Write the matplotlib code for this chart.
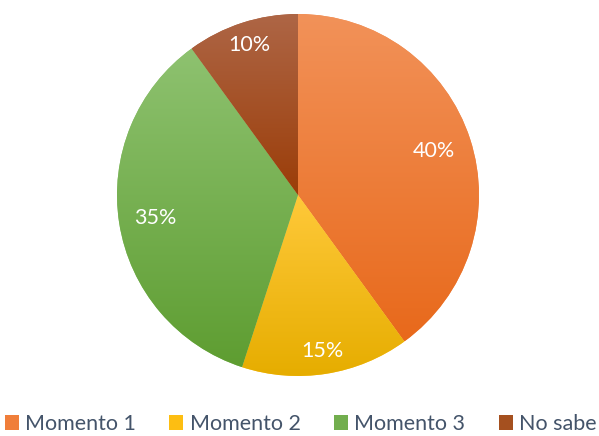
import matplotlib
matplotlib.use("Agg")
import matplotlib.pyplot as plt
import numpy as np
from matplotlib.colors import to_rgb
from matplotlib.patches import Patch

plt.rcParams['font.family'] = ['Lato', 'DejaVu Sans']

categories = ['Momento 1', 'Momento 2', 'Momento 3', 'No sabe']
values = [40, 15, 35, 10]
labels = ['40%', '15%', '35%', '10%']

# gradiente vertical de cada porción (arriba, abajo)
top_colors = ['#F29259', '#FFC93A', '#8EC270', '#AE6646']
bottom_colors = ['#E8691B', '#E6AD00', '#5E9D31', '#9B3D08']
legend_colors = ['#F07E3A', '#FDBE12', '#72AE4E', '#A5501F']
label_dist = [0.79, 0.87, 0.80, 0.87]

fig = plt.figure(figsize=(5.99, 4.36), dpi=100)
ax = fig.add_axes([0, 0, 1, 1])

cx, cy, r = 298, 241, 181
wedges, _ = ax.pie(values, center=(cx, cy), radius=r, startangle=90,
                   counterclock=False, colors=top_colors,
                   wedgeprops=dict(linewidth=0))

for w, c0, c1 in zip(wedges, top_colors, bottom_colors):
    bb = w.get_path().get_extents()
    t = np.linspace(0, 1, 256)[:, None, None]
    grad = (1 - t) * np.array(to_rgb(c0)) + t * np.array(to_rgb(c1))
    im = ax.imshow(grad, extent=(bb.x0, bb.x1, bb.y0, bb.y1), origin='upper',
                   aspect='auto', interpolation='bilinear', zorder=2)
    im.set_clip_path(w)

for w, lab, d in zip(wedges, labels, label_dist):
    ang = np.deg2rad((w.theta1 + w.theta2) / 2)
    ax.text(cx + d * r * np.cos(ang), cy + d * r * np.sin(ang), lab,
            color='white', fontsize=15.5, ha='center', va='center', zorder=3)

ax.set_xlim(0, 599)
ax.set_ylim(0, 436)
ax.set_aspect('equal')
ax.axis('off')

handles = [Patch(facecolor=c, edgecolor='none') for c in legend_colors]
fig.legend(handles, categories, loc='lower center', ncol=4, frameon=False,
           bbox_to_anchor=(0.502, -0.04), fontsize=15.5, labelcolor='#44546A',
           handlelength=0.65, handleheight=0.65, handletextpad=0.3,
           columnspacing=1.55)

fig.savefig('out.png', dpi=100)
